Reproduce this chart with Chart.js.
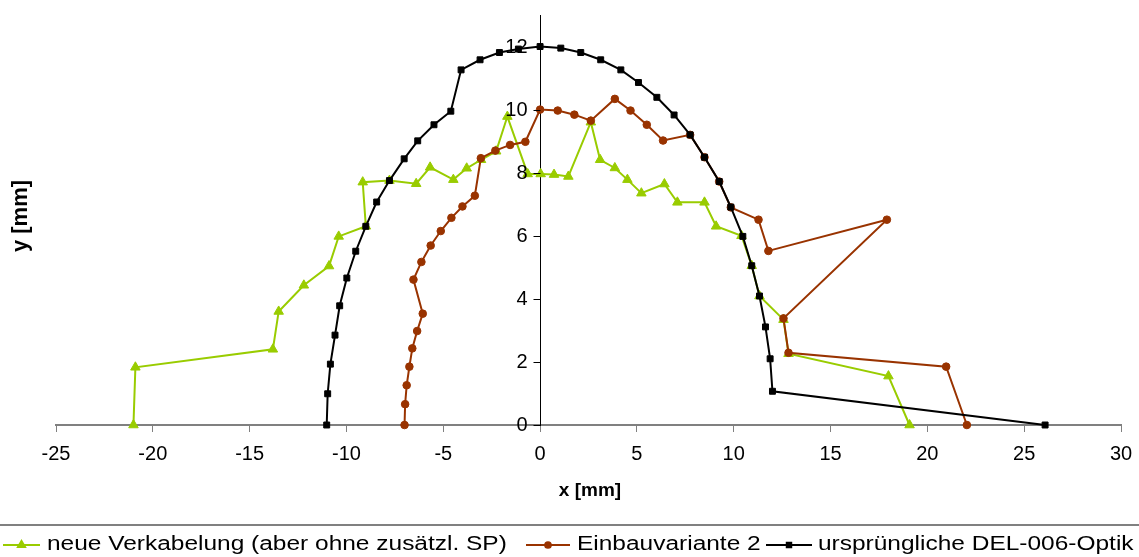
<!DOCTYPE html>
<html>
<head>
<meta charset="utf-8">
<title>Querschnitt</title>
<script src="https://cdn.jsdelivr.net/npm/chart.js@4/dist/chart.umd.min.js"></script>
<style>
  html, body { margin: 0; padding: 0; background: #ffffff; }
  #wrap { width: 1139px; height: 557px; position: relative; }
</style>
</head>
<body>
<div id="wrap"><canvas id="c" width="1139" height="557"></canvas></div>
<script>
// Series: neue Verkabelung (aber ohne zusätzl. SP)
const neueX = [-21.0, -20.9, -13.8, -13.5, -12.2, -10.9, -10.4, -9.0, -9.16, -7.78, -6.4, -5.68, -4.48, -3.79, -3.05, -2.27, -1.69, -0.64, 0.03, 0.72, 1.46, 2.62, 3.1, 3.86, 4.51, 5.23, 6.42, 7.09, 8.49, 9.09, 10.4, 10.93, 11.33, 12.57, 12.83, 17.99, 19.08];
const neueY = [0, 1.83, 2.4, 3.6, 4.43, 5.04, 5.98, 6.3, 7.7, 7.75, 7.65, 8.17, 7.78, 8.14, 8.41, 8.68, 9.78, 7.96, 7.96, 7.94, 7.88, 9.6, 8.41, 8.15, 7.78, 7.35, 7.64, 7.06, 7.06, 6.3, 6.0, 5.05, 4.09, 3.34, 2.26, 1.55, 0];

// Series: Einbauvariante 2
const einbauX = [-7.0, -6.97, -6.89, -6.75, -6.6, -6.35, -6.06, -6.54, -6.13, -5.65, -5.13, -4.58, -4.01, -3.37, -3.06, -2.31, -1.55, -0.76, 0.0, 0.91, 1.77, 2.62, 3.86, 4.67, 5.51, 6.35, 7.75, 8.49, 9.25, 9.85, 11.28, 11.79, 17.91, 12.57, 12.83, 20.97, 22.04];
const einbauY = [0, 0.66, 1.26, 1.85, 2.43, 2.98, 3.53, 4.61, 5.17, 5.69, 6.15, 6.57, 6.93, 7.27, 8.46, 8.70, 8.88, 8.98, 10.0, 9.97, 9.84, 9.65, 10.34, 9.97, 9.52, 9.02, 9.2, 8.49, 7.72, 6.9, 6.51, 5.52, 6.51, 3.38, 2.29, 1.85, 0];

// Series: ursprüngliche DEL-006-Optik
const originalX = [-11.02, -10.97, -10.83, -10.59, -10.35, -9.98, -9.52, -9.0, -8.44, -7.78, -7.02, -6.32, -5.48, -4.61, -4.08, -3.1, -2.1, -1.12, 0.0, 1.07, 2.1, 3.13, 4.17, 5.08, 6.03, 6.92, 7.75, 8.49, 9.25, 9.85, 10.47, 10.93, 11.33, 11.64, 11.88, 12.0, 26.08];
const originalY = [0, 0.99, 1.93, 2.85, 3.78, 4.66, 5.51, 6.3, 7.07, 7.75, 8.44, 9.01, 9.52, 9.95, 11.26, 11.58, 11.81, 11.92, 12.0, 11.95, 11.81, 11.58, 11.26, 10.86, 10.39, 9.83, 9.2, 8.49, 7.72, 6.91, 5.98, 5.05, 4.09, 3.11, 2.1, 1.07, 0];

const seriesNames = ['neue Verkabelung (aber ohne zusätzl. SP)', 'Einbauvariante 2', 'ursprüngliche DEL-006-Optik'];
const axisTitles = { x: 'x [mm]', y: 'y [mm]' };

const FONT = "'Liberation Sans', Arial, sans-serif";

function toPoints(xs, ys) {
  return xs.map((x, i) => ({ x: x, y: ys[i] }));
}

const styles = [
  { color: '#99CC00', pointStyle: 'triangle', radius: 5.5, order: 3 },
  { color: '#993300', pointStyle: 'circle', radius: 3.8, order: 2 },
  { color: '#000000', pointStyle: 'rect', radius: 4.2, order: 1 }
];
const seriesData = [toPoints(neueX, neueY), toPoints(einbauX, einbauY), toPoints(originalX, originalY)];

const datasets = seriesData.map((d, i) => ({
  label: seriesNames[i],
  data: d,
  showLine: true,
  borderColor: styles[i].color,
  backgroundColor: styles[i].color,
  pointBackgroundColor: styles[i].color,
  pointBorderColor: styles[i].color,
  pointStyle: styles[i].pointStyle,
  pointRadius: styles[i].radius,
  pointBorderWidth: 1,
  borderWidth: 2,
  tension: 0,
  order: styles[i].order,
  clip: false
}));

// Y tick marks and labels sit on the left side of the axis crossing x = 0
const centerAxisTicks = {
  id: 'centerAxisTicks',
  afterDraw(chart) {
    const ctx = chart.ctx;
    const ys = chart.scales.y;
    const ax = Math.round(chart.scales.x.getPixelForValue(0)) + 0.5;
    ctx.save();
    ctx.strokeStyle = '#000';
    ctx.lineWidth = 1;
    ctx.fillStyle = '#000';
    ctx.font = '20px ' + FONT;
    ctx.textAlign = 'right';
    ctx.textBaseline = 'middle';
    ys.ticks.forEach(t => {
      const py = Math.round(ys.getPixelForValue(t.value)) + 0.5;
      ctx.beginPath();
      ctx.moveTo(ax - 7, py);
      ctx.lineTo(ax, py);
      ctx.stroke();
      ctx.fillText(String(t.value), ax - 13, py);
    });
    ctx.restore();
  }
};

// Axis titles, separator rule and legend row (line sample + marker + stretched label)
const decorations = {
  id: 'decorations',
  afterDraw(chart) {
    const ctx = chart.ctx;
    ctx.save();
    ctx.fillStyle = '#000';
    ctx.font = 'bold 19px ' + FONT;
    ctx.textAlign = 'center';
    ctx.textBaseline = 'middle';
    ctx.fillText(axisTitles.x, 590, 491);
    ctx.translate(21, 216);
    ctx.rotate(-Math.PI / 2);
    ctx.font = 'bold 22px ' + FONT;
    ctx.fillText(axisTitles.y, 0, 0);
    ctx.restore();

    // separator rule
    ctx.save();
    ctx.strokeStyle = '#808080';
    ctx.lineWidth = 2;
    ctx.beginPath();
    ctx.moveTo(0, 525);
    ctx.lineTo(1139, 525);
    ctx.stroke();
    ctx.restore();

    const rowY = 545;
    const items = [
      { x0: 3, x1: 40, tx: 47 },
      { x0: 526, x1: 570, tx: 577 },
      { x0: 766, x1: 812, tx: 818 }
    ];
    const stretch = 1.255;
    items.forEach((it, i) => {
      const ds = chart.data.datasets[i];
      ctx.save();
      ctx.strokeStyle = ds.borderColor;
      ctx.lineWidth = 2;
      ctx.beginPath();
      ctx.moveTo(it.x0, rowY);
      ctx.lineTo(it.x1, rowY);
      ctx.stroke();
      ctx.fillStyle = ds.borderColor;
      ctx.strokeStyle = ds.borderColor;
      Chart.helpers.drawPoint(ctx, {
        pointStyle: ds.pointStyle,
        radius: ds.pointRadius * 0.75,
        borderWidth: 1,
        rotation: 0
      }, (it.x0 + it.x1) / 2, rowY);
      ctx.restore();

      ctx.save();
      ctx.fillStyle = '#000';
      ctx.font = '19.5px ' + FONT;
      ctx.textAlign = 'left';
      ctx.textBaseline = 'middle';
      ctx.translate(it.tx, rowY);
      ctx.scale(stretch, 1);
      ctx.fillText(ds.label, 0, 0);
      ctx.restore();
    });
  }
};

new Chart(document.getElementById('c'), {
  type: 'scatter',
  data: { datasets: datasets },
  options: {
    responsive: false,
    animation: false,
    layout: { padding: { left: 56, right: 18, top: 15, bottom: 81 } },
    plugins: {
      legend: { display: false },
      tooltip: { enabled: false }
    },
    scales: {
      x: {
        type: 'linear',
        position: 'bottom',
        min: -25,
        max: 30,
        ticks: {
          stepSize: 5,
          color: '#000',
          padding: 3,
          font: { family: FONT, size: 20, lineHeight: 1.9 },
          maxRotation: 0
        },
        grid: { drawOnChartArea: false, tickLength: 7, color: '#808080', tickWidth: 1 },
        border: { color: '#808080', width: 2 }
      },
      y: {
        type: 'linear',
        position: { x: 0 },
        min: 0,
        max: 13,
        ticks: {
          stepSize: 2,
          includeBounds: false,
          display: false
        },
        grid: { display: false },
        border: { color: '#000', width: 1 }
      }
    }
  },
  plugins: [centerAxisTicks, decorations]
});
</script>
</body>
</html>
